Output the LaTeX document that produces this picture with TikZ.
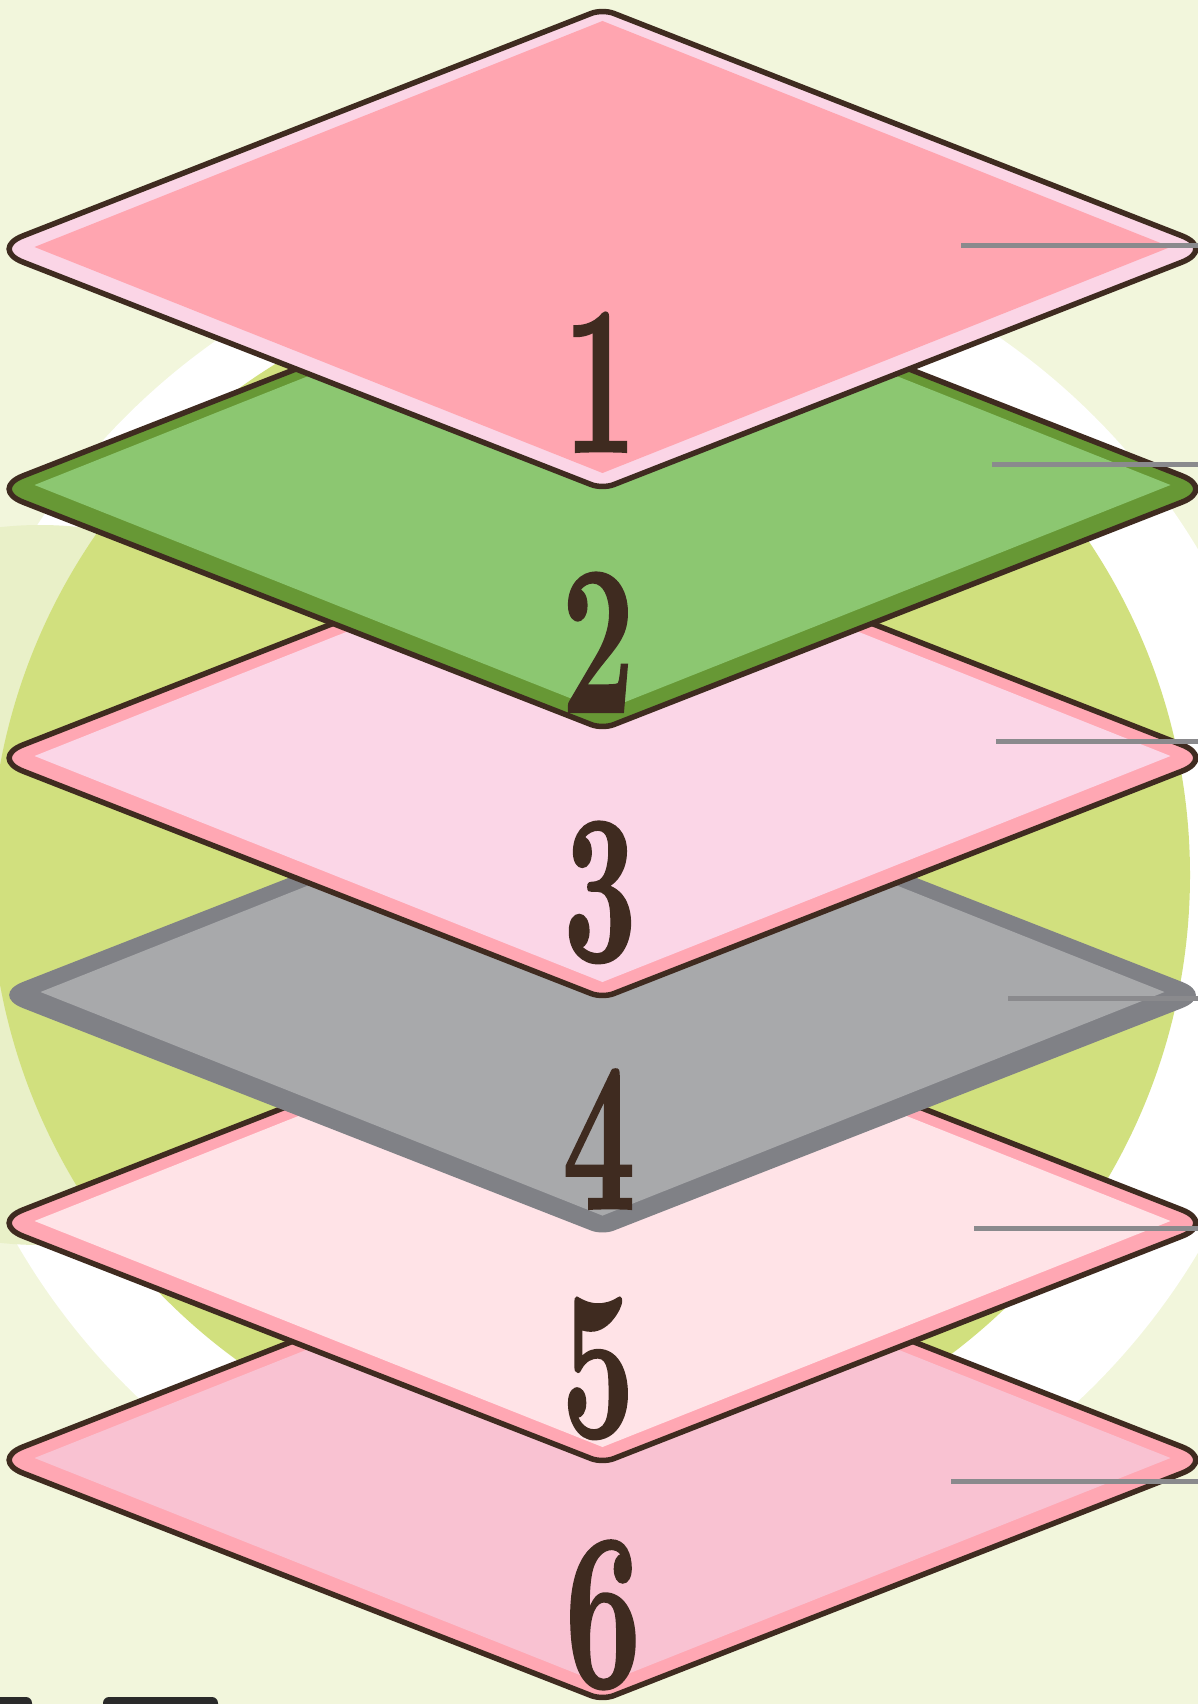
\documentclass[tikz,border=0pt]{standalone}
\usepackage{fontspec}
\usepackage{graphicx}
\newfontfamily\digitfont{lmroman10-bold.otf}[FakeBold=1]
\definecolor{bgc}{HTML}{F2F6DC}
\definecolor{lightg}{HTML}{E9F0C8}
\definecolor{greenc}{HTML}{D1E07E}
\definecolor{brownline}{HTML}{3F2B20}
\definecolor{leadergray}{HTML}{8A8A8D}
\definecolor{darkshape}{HTML}{2A2A2A}
\definecolor{cAb}{HTML}{FBD5E6}\definecolor{cAf}{HTML}{FFA5B0}
\definecolor{cBb}{HTML}{679835}\definecolor{cBf}{HTML}{8CC771}
\definecolor{cCb}{HTML}{FFA7B3}\definecolor{cCf}{HTML}{FBD6E7}
\definecolor{cDb}{HTML}{808186}\definecolor{cDf}{HTML}{A8A9AB}
\definecolor{cEb}{HTML}{FFA7B3}\definecolor{cEf}{HTML}{FFE3E7}
\definecolor{cFb}{HTML}{FFA7B3}\definecolor{cFf}{HTML}{F9C2D2}
\tikzset{
  outline/.style={draw=brownline, line width=5.5pt},
  leader/.style={draw=leadergray, line width=5pt},
  digit/.style={anchor=base, inner sep=0pt, text=brownline,
    font=\fontsize{213}{213}\digitfont},
}
% #1 centre y, #2 band colour, #3 face colour, #4 extra style, #5 upward shift of face, #6 extra inset
\newcommand\drawlayer[6]{%
  \path[fill=#2, #4, line join=round]
    (296,#1-120) [rounded corners=12pt] -- (602.5,#1-240) [rounded corners=36pt] -- (1215.5,#1)
    [rounded corners=12pt] -- (602.5,#1+240) [rounded corners=36pt] -- (-10.5,#1) -- cycle;
  \fill[#3] (34.5+#6,#1-#5) -- (602.5,#1-226+0.4*#6-#5) -- (1170.5-#6,#1-#5) -- (602.5,#1+226-0.4*#6-#5) -- cycle;
}
\begin{document}
\begin{tikzpicture}[x=1pt,y=-1pt]
  \useasboundingbox (0,0) rectangle (1198,1704);
  \clip (0,0) rectangle (1198,1704);
  \fill[bgc] (0,0) rectangle (1198,1704);
  % background circles
  \fill[white] (610,901) circle (685);
  \fill[lightg] (40,885) circle (360);
  \fill[greenc] (590,875) circle (600);
  % dark shapes at bottom left
  \fill[darkshape, rounded corners=6pt] (-20,1697) rectangle (32,1760);
  \fill[darkshape, rounded corners=6pt] (103,1697) rectangle (218,1760);
  % layers, bottom to top
  \drawlayer{1460}{cFb}{cFf}{outline}{2}{0}
  \node[digit, font=\fontsize{224}{224}\digitfont] (d6) at (603,1687) {\scalebox{0.6}[1]{6}};
  \drawlayer{1223}{cEb}{cEf}{outline}{2}{0}
  \node[digit] (d5) at (598,1437) {\scalebox{0.6}[1]{5}};
  \drawlayer{995}{cDb}{cDf}{}{3}{6}
  \node[digit] (d4) at (599,1209) {\scalebox{0.6}[1]{4}};
  \drawlayer{758}{cCb}{cCf}{outline}{2}{0}
  \node[digit] (d3) at (600,961) {\scalebox{0.6}[1]{3}};
  \drawlayer{489}{cBb}{cBf}{outline}{4}{0}
  \node[digit] (d2) at (598,712) {\scalebox{0.6}[1]{2}};
  \drawlayer{249}{cAb}{cAf}{outline}{2}{0}
  \node[digit] (d1) at (600,452) {\scalebox{0.6}[1]{1}};
  % leader lines
  \coordinate (a1) at (961,246);  \coordinate (b1) at (1198,246);
  \coordinate (a2) at (992,464);  \coordinate (b2) at (1198,464);
  \coordinate (a3) at (996,741);  \coordinate (b3) at (1198,741);
  \coordinate (a4) at (1008,998); \coordinate (b4) at (1198,998);
  \coordinate (a5) at (974,1228); \coordinate (b5) at (1198,1228);
  \coordinate (a6) at (951,1481); \coordinate (b6) at (1198,1481);
  \foreach \i in {1,...,6} { \draw[leader] (a\i) -- (b\i); }
\end{tikzpicture}
\end{document}
